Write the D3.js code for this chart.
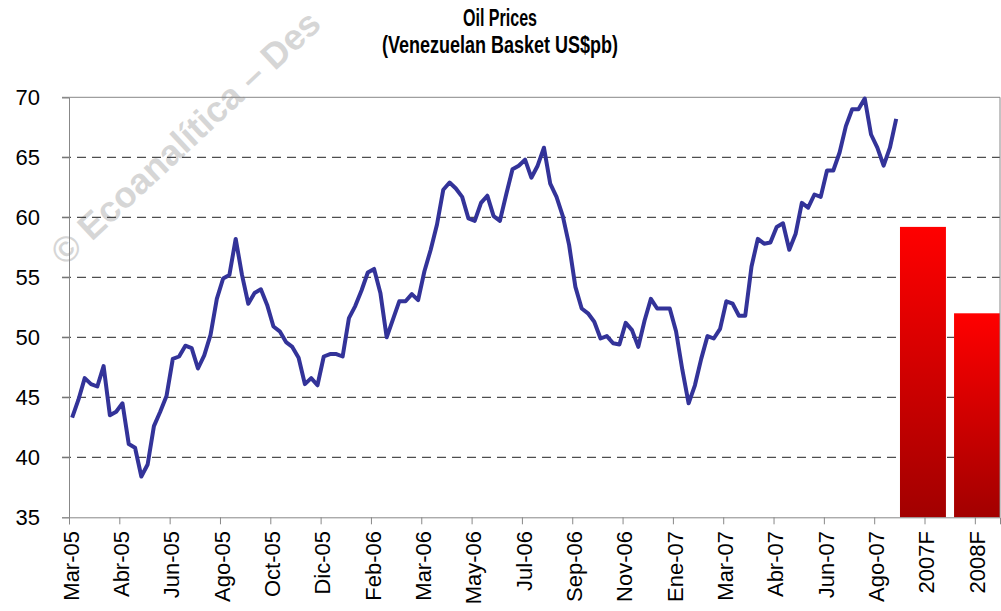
<!DOCTYPE html>
<html>
<head>
<meta charset="utf-8">
<script src="https://cdn.jsdelivr.net/npm/d3@7"></script>
<style>
  body { margin: 0; background: #fff; }
  text { font-family: "Liberation Sans", Arial, sans-serif; }
</style>
</head>
<body>
<script>
// Tick labels along the bottom (one every 8 weekly points, then the two forecast bars)
const tickLabels = ['Mar-05', 'Abr-05', 'Jun-05', 'Ago-05', 'Oct-05', 'Dic-05', 'Feb-06', 'Mar-06',
                    'May-06', 'Jul-06', 'Sep-06', 'Nov-06', 'Ene-07', 'Mar-07', 'Abr-07', 'Jun-07',
                    'Ago-07', '2007F', '2008F'];

// Weekly Venezuelan basket price, US$ per barrel
const basketWeekly = [
  43.3, 44.8, 46.6, 46.1, 45.9, 47.6, 43.5, 43.8, 44.5, 41.1,
  40.8, 38.4, 39.4, 42.6, 43.8, 45.1, 48.2, 48.4, 49.3, 49.1,
  47.4, 48.5, 50.2, 53.2, 54.9, 55.2, 58.2, 55.2, 52.8, 53.7,
  54.0, 52.7, 50.9, 50.5, 49.6, 49.2, 48.3, 46.1, 46.6, 46.0,
  48.4, 48.6, 48.6, 48.4, 51.6, 52.6, 53.9, 55.4, 55.7, 53.7,
  50.0, 51.5, 53.0, 53.0, 53.6, 53.1, 55.5, 57.3, 59.4, 62.3,
  62.9, 62.4, 61.7, 59.9, 59.7, 61.2, 61.8, 60.1, 59.7, 61.9,
  64.0, 64.3, 64.8, 63.3, 64.3, 65.8, 62.8, 61.7, 60.1, 57.7,
  54.2, 52.4, 52.0, 51.3, 49.9, 50.1, 49.5, 49.4, 51.2, 50.6,
  49.2, 51.4, 53.2, 52.4, 52.4, 52.4, 50.5, 47.3, 44.5, 46.0,
  48.2, 50.1, 49.9, 50.7, 53.0, 52.8, 51.8, 51.8, 55.9, 58.2,
  57.8, 57.9, 59.2, 59.5, 57.3, 58.6, 61.2, 60.8, 61.9, 61.7,
  63.9, 63.9, 65.4, 67.6, 69.0, 69.0, 69.9, 66.9, 65.8, 64.3,
  65.8, 68.2
];

// Forecast bars
const forecastYears = ['2007F', '2008F'];
const forecastValues = [59.2, 52.0];

const yTicks = [35, 40, 45, 50, 55, 60, 65, 70];
const weeksPerLabel = 8;

const width = 1001, height = 611;
const plot = { left: 69, right: 1000, top: 97.3, bottom: 517.3 };

const svg = d3.select('body')
  .append('svg')
  .attr('width', width)
  .attr('height', height);

// weekly slots; plot runs to week 148
const x = d3.scaleLinear().domain([0, 148]).range([plot.left, plot.right]);
const y = d3.scaleLinear().domain([35, 70]).range([plot.bottom, plot.top]);
const xBar = d3.scaleBand()
  .domain(forecastYears)
  .range([x(132.1), x(148)])
  .paddingInner(0.15)
  .paddingOuter(0);

// watermark
svg.append('text')
  .attr('transform', 'translate(65,267) rotate(-43)')
  .attr('font-size', 36)
  .attr('font-weight', 'bold')
  .attr('fill', '#d6d6d6')
  .text('© Ecoanalítica – Des');

// title
svg.append('text')
  .attr('x', 500).attr('y', 26)
  .attr('text-anchor', 'middle')
  .attr('font-size', 23)
  .attr('font-weight', 'bold')
  .attr('textLength', 74)
  .attr('lengthAdjust', 'spacingAndGlyphs')
  .text('Oil Prices');

svg.append('text')
  .attr('x', 500).attr('y', 53)
  .attr('text-anchor', 'middle')
  .attr('font-size', 23)
  .attr('font-weight', 'bold')
  .attr('textLength', 236)
  .attr('lengthAdjust', 'spacingAndGlyphs')
  .text('(Venezuelan Basket US$pb)');

// gridlines
svg.append('g')
  .selectAll('line')
  .data(yTicks.filter(v => v > 35 && v < 70))
  .enter()
  .append('line')
  .attr('x1', plot.left - 7).attr('x2', plot.right)
  .attr('y1', d => y(d)).attr('y2', d => y(d))
  .attr('stroke', '#222')
  .attr('stroke-width', 1)
  .attr('stroke-dasharray', '9,6');

svg.append('line')
  .attr('x1', plot.left - 7).attr('x2', plot.right)
  .attr('y1', y(70)).attr('y2', y(70))
  .attr('stroke', '#888');

// gradient for the forecast bars
const grad = svg.append('defs').append('linearGradient')
  .attr('id', 'barGrad')
  .attr('x1', 0).attr('y1', 0).attr('x2', 0).attr('y2', 1);
grad.append('stop').attr('offset', '0%').attr('stop-color', '#ff0000');
grad.append('stop').attr('offset', '100%').attr('stop-color', '#a20000');

svg.selectAll('rect.bar')
  .data(forecastValues)
  .enter()
  .append('rect')
  .attr('class', 'bar')
  .attr('x', (d, i) => xBar(forecastYears[i]))
  .attr('y', d => y(d))
  .attr('width', xBar.bandwidth())
  .attr('height', d => y(35) - y(d))
  .attr('fill', 'url(#barGrad)');

// price line
const line = d3.line()
  .x((d, i) => x(i + 0.5))
  .y(d => y(d));

svg.append('path')
  .datum(basketWeekly)
  .attr('d', line)
  .attr('fill', 'none')
  .attr('stroke', '#333399')
  .attr('stroke-width', 4)
  .attr('stroke-linejoin', 'round');

// y axis
const yAxis = d3.axisLeft(y).tickValues(yTicks).tickSize(7).tickFormat(d3.format('d'));
const gy = svg.append('g')
  .attr('transform', `translate(${plot.left},0)`)
  .call(yAxis);
gy.select('.domain').attr('stroke', '#888');
gy.selectAll('.tick line').attr('stroke', '#888');
gy.selectAll('.tick text')
  .attr('x', -29)
  .attr('font-size', 22)
  .attr('font-family', '"Liberation Sans", Arial, sans-serif')
  .attr('fill', '#000');

// x axis
const xTickVals = tickLabels.map((d, i) => i * weeksPerLabel);
const xAxis = d3.axisBottom(x).tickValues(xTickVals).tickSize(7).tickFormat(() => '');
const gx = svg.append('g')
  .attr('transform', `translate(0,${plot.bottom})`)
  .call(xAxis);
gx.select('.domain').attr('stroke', '#888');
gx.selectAll('.tick line').attr('stroke', '#888');

svg.append('g')
  .selectAll('text')
  .data(tickLabels)
  .enter()
  .append('text')
  .attr('transform', (d, i) => `translate(${x(i * weeksPerLabel) + 2},531) rotate(-90)`)
  .attr('text-anchor', 'end')
  .attr('dy', '0.35em')
  .attr('font-size', 22)
  .attr('fill', '#000')
  .text(d => d);

// right border
svg.append('line')
  .attr('x1', plot.right).attr('x2', plot.right)
  .attr('y1', plot.top).attr('y2', plot.bottom)
  .attr('stroke', '#888');
</script>
</body>
</html>
